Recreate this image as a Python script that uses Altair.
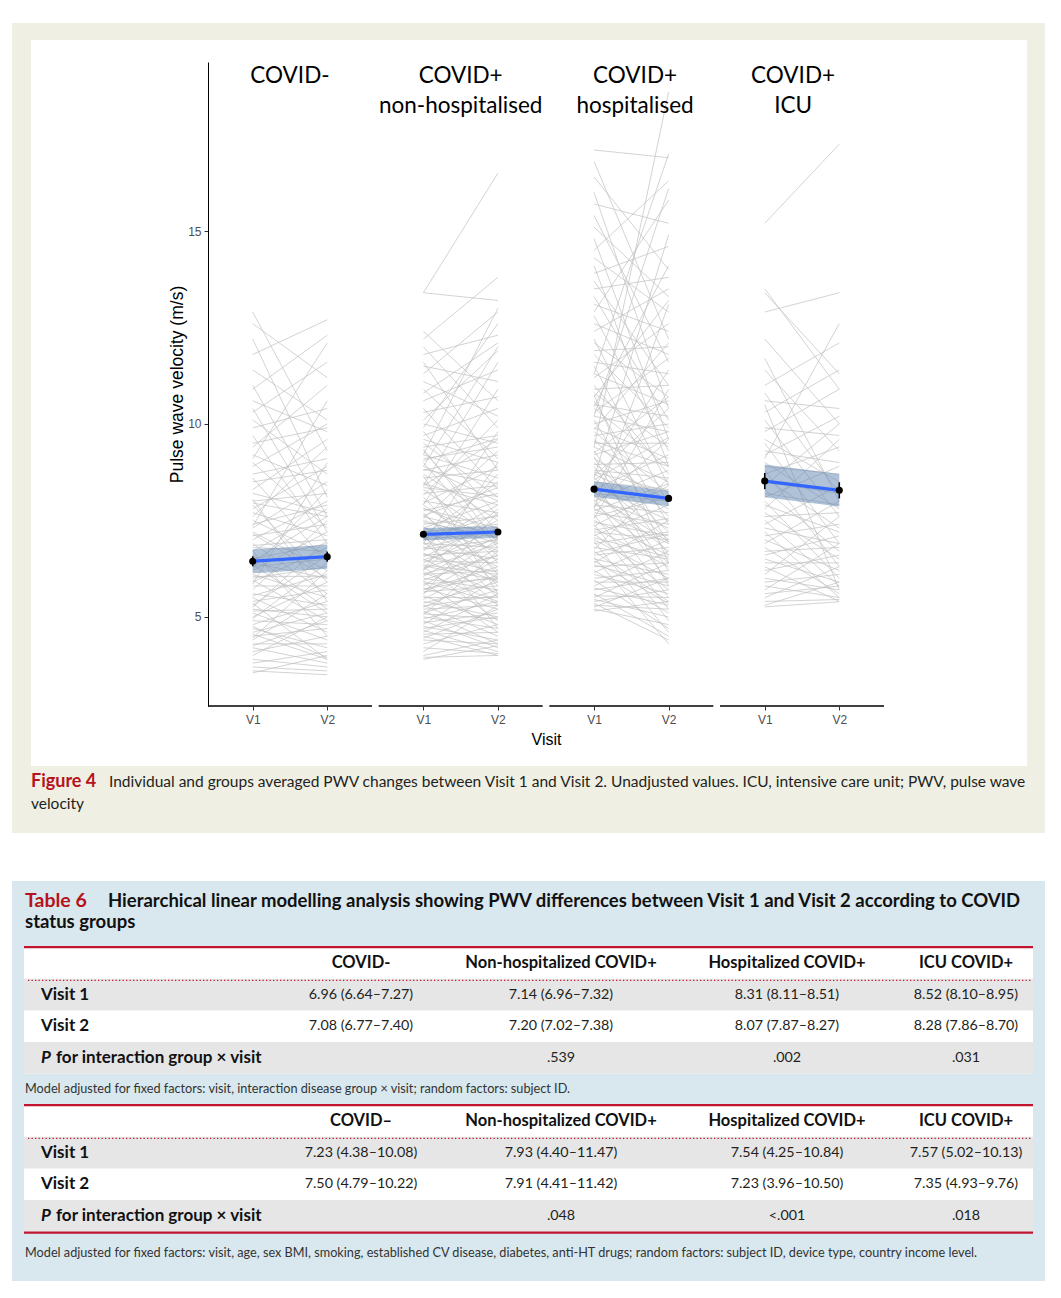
import altair as alt
import pandas as pd

# ---------------- Figure 4 data ----------------
group_titles = ["COVID-", "COVID+\nnon-hospitalised", "COVID+\nhospitalised", "COVID+\nICU"]
visits = ["V1", "V2"]

# individual subjects: (Visit 1, Visit 2) pulse wave velocity, m/s
covid_neg = [
    (12.9, 9.3), (12.6, 11.2), (12.2, 8.1), (11.8, 12.7), (11.4, 10.1), (11.0, 7.6), (10.9, 12.3),
    (10.6, 9.8), (10.3, 11.6), (10.1, 8.7), (9.9, 10.4), (9.7, 6.9), (9.5, 9.9), (9.4, 11.0),
    (9.2, 8.4), (9.0, 7.3), (8.9, 10.0), (8.7, 9.1), (8.6, 6.4), (8.5, 8.8), (8.3, 9.6), (8.2, 7.7),
    (8.0, 8.2), (7.9, 5.9), (7.8, 8.9), (7.7, 7.1), (7.6, 9.4), (7.5, 6.6), (7.4, 7.9), (7.3, 8.5),
    (7.2, 6.2), (7.1, 7.4), (7.0, 8.0), (6.9, 5.6), (6.85, 7.0), (6.8, 6.7), (6.7, 7.8), (6.6, 5.2),
    (6.5, 6.9), (6.45, 7.6), (6.4, 6.0), (6.3, 6.5), (6.2, 7.2), (6.1, 5.5), (6.0, 6.3), (5.95, 4.9),
    (5.9, 6.8), (5.8, 5.8), (5.7, 7.5), (5.6, 5.3), (5.55, 6.1), (5.5, 4.6), (5.4, 5.7), (5.3, 6.6),
    (5.2, 5.0), (5.1, 4.4), (5.0, 5.9), (4.95, 6.4), (4.9, 4.8), (4.8, 5.4), (4.7, 4.2), (4.6, 5.1),
    (4.55, 3.9), (4.5, 4.7), (4.4, 5.6), (4.3, 4.3), (4.2, 3.8), (4.1, 4.5), (4.0, 5.0), (3.9, 3.7),
    (3.8, 4.1), (3.7, 3.6), (3.6, 3.5), (3.55, 4.0), (6.25, 8.3), (7.15, 6.0), (5.25, 7.0), (8.05, 5.4),
    (6.7, 4.5), (5.85, 9.0), (9.1, 12.1), (7.35, 10.6), (4.45, 6.2), (10.4, 7.2), (5.35, 3.9),
    (6.05, 6.05), (7.95, 7.6), (4.25, 4.9), (5.15, 5.2), (4.75, 3.95), (6.35, 5.1),
]
covid_nonhosp = [
    (13.4, 16.5), (13.4, 13.2), (12.4, 10.6), (12.2, 13.8), (12.0, 9.9), (11.8, 12.3), (11.6, 8.8),
    (11.5, 11.1), (11.3, 12.9), (11.1, 10.2), (10.9, 9.1), (10.8, 12.1), (10.6, 11.4), (10.4, 8.3),
    (10.3, 10.7), (10.1, 11.9), (10.0, 9.5), (9.9, 12.6), (9.8, 7.6), (9.7, 10.4), (8.9, 12.0),
    (8.4, 11.6), (9.2, 13.0), (7.9, 10.9),
    (9.6, 9.0), (9.5, 8.1), (9.4, 9.7), (9.3, 7.2), (9.2, 8.6), (9.1, 9.4), (9.0, 6.8), (8.9, 8.0),
    (8.8, 9.2), (8.7, 7.5), (8.6, 8.8), (8.5, 6.4), (8.45, 7.9), (8.4, 9.6), (8.3, 7.0), (8.2, 8.4),
    (8.1, 6.1), (8.0, 7.7), (7.95, 8.9), (7.9, 6.6), (7.8, 7.3), (7.75, 8.2), (7.7, 5.8), (7.6, 7.1),
    (7.55, 9.3), (7.5, 6.9), (7.4, 7.6), (7.35, 5.5), (7.3, 8.0), (7.25, 6.3), (7.2, 7.4), (7.1, 8.5),
    (7.05, 6.0), (7.0, 7.2), (6.95, 5.3), (6.9, 6.8), (6.85, 7.9), (6.8, 6.5), (6.75, 7.0), (6.7, 8.7),
    (6.65, 5.9), (6.6, 6.7), (6.55, 7.5), (6.5, 5.6), (6.45, 6.4), (6.4, 7.3), (6.35, 6.1), (6.3, 4.9),
    (6.25, 6.9), (6.2, 7.8), (6.15, 5.4), (6.1, 6.2), (6.05, 7.1), (6.0, 5.7), (5.95, 6.6), (5.9, 4.6),
    (5.85, 6.0), (5.8, 7.0), (5.75, 5.2), (5.7, 6.3), (5.65, 5.8), (5.6, 6.8), (5.55, 4.8), (5.5, 5.5),
    (5.45, 6.5), (5.4, 5.0), (5.35, 5.9), (5.3, 4.5), (5.25, 6.1), (5.2, 5.3), (5.15, 4.3), (5.1, 5.7),
    (5.05, 6.7), (5.0, 4.7), (4.95, 5.4), (4.9, 4.2), (4.85, 5.1), (4.8, 6.0), (4.75, 4.4), (4.7, 5.0),
    (4.65, 4.1), (4.6, 5.6), (4.55, 4.6), (4.5, 4.0), (4.45, 5.2), (4.4, 4.3), (4.3, 4.8), (4.2, 4.05),
    (4.1, 5.3), (4.0, 4.4), (3.95, 4.0), (3.9, 4.25), (7.65, 6.2), (6.9, 9.8), (8.15, 10.1), (5.6, 7.7),
    (6.2, 9.0), (7.15, 4.7), (8.65, 5.6), (9.35, 6.9), (7.45, 7.05), (6.62, 6.15), (7.02, 7.65),
    (5.92, 5.35), (6.78, 7.28), (7.32, 6.72), (6.12, 6.58), (7.82, 7.02), (5.72, 6.05), (6.48, 7.02),
    (8.35, 8.12), (5.28, 5.55), (7.62, 8.35), (6.32, 5.95), (8.82, 8.45), (5.08, 4.95), (9.05, 9.62),
]
covid_hosp = [
    (17.1, 16.9), (16.8, 12.2), (16.4, 14.0), (16.0, 10.4), (15.7, 15.2), (15.4, 11.6), (15.1, 13.3),
    (14.8, 9.6), (14.5, 16.3), (14.3, 12.9), (14.1, 8.9), (13.9, 14.6), (13.7, 11.0), (13.5, 13.8),
    (13.3, 10.1), (13.1, 12.4), (12.9, 15.8), (12.8, 9.3), (12.6, 11.8), (12.4, 13.5), (12.2, 8.4),
    (12.1, 10.7), (9.4, 18.6), (10.2, 16.1), (8.6, 14.9), (11.3, 17.0), (7.8, 13.1),
    (11.9, 12.0), (11.8, 9.9), (11.6, 11.3), (11.5, 7.9), (11.3, 10.5), (11.2, 12.6), (11.0, 8.7),
    (10.9, 11.0), (10.8, 9.4), (10.7, 13.2), (10.6, 7.4), (10.5, 10.2), (10.4, 8.9), (10.3, 11.7),
    (10.2, 9.8), (10.1, 6.9), (10.0, 10.6),
    (9.9, 9.1), (9.8, 8.2), (9.7, 10.0), (9.6, 7.6), (9.5, 9.5), (9.4, 8.5), (9.3, 6.6), (9.2, 9.8),
    (9.1, 8.0), (9.0, 7.2), (8.95, 9.0), (8.9, 6.2), (8.8, 8.6), (8.7, 7.8), (8.65, 10.4), (8.6, 7.0),
    (8.5, 8.3), (8.45, 5.9), (8.4, 7.5), (8.3, 9.2), (8.25, 6.7), (8.2, 8.0), (8.1, 7.3), (8.05, 5.5),
    (8.0, 8.8), (7.95, 6.4), (7.9, 7.7), (7.85, 9.6), (7.8, 6.9), (7.7, 7.4), (7.65, 5.2), (7.6, 8.1),
    (7.5, 6.6), (7.45, 7.1), (7.4, 4.9), (7.35, 8.4), (7.3, 6.3), (7.2, 7.0), (7.15, 5.7), (7.1, 7.9),
    (7.0, 6.0), (6.95, 4.6), (6.9, 7.2), (6.8, 6.5), (6.75, 8.6), (6.7, 5.4), (6.6, 6.8), (6.55, 4.3),
    (6.5, 6.1), (6.4, 7.5), (6.35, 5.8), (6.3, 6.4), (6.2, 5.1), (6.15, 7.0), (6.1, 5.6), (6.0, 6.2),
    (5.95, 4.7), (5.9, 5.9), (5.8, 6.7), (5.75, 5.3), (5.7, 6.0), (5.6, 4.5), (5.55, 5.5), (5.5, 6.4),
    (5.45, 5.0), (5.4, 5.7), (5.35, 4.4), (5.3, 5.2), (5.25, 6.0), (5.2, 4.8), (5.15, 5.4),
    (9.85, 12.1), (8.35, 11.4), (10.45, 14.1), (7.55, 10.9), (9.15, 5.8), (10.75, 6.4), (8.75, 8.25),
    (7.25, 7.55), (9.55, 8.9), (6.65, 7.15), (8.15, 6.95), (7.75, 8.45), (9.25, 10.7), (6.45, 5.35),
    (8.55, 9.65), (7.05, 6.55),
]
covid_icu = [
    (15.2, 17.25), (13.5, 10.9), (13.4, 11.3), (12.9, 13.4), (12.2, 10.0), (11.4, 9.3), (11.0, 12.1),
    (10.8, 8.2), (10.6, 10.4), (10.3, 11.4), (10.1, 7.6), (9.9, 9.7), (9.8, 10.9), (9.6, 8.5),
    (9.5, 6.9), (9.3, 9.0), (9.2, 10.2), (9.0, 7.8), (8.9, 8.7), (8.8, 6.3), (8.7, 9.4), (8.6, 7.3),
    (8.5, 8.2), (8.4, 10.0), (8.3, 6.7), (8.2, 7.9), (8.1, 8.9), (8.0, 6.0), (7.9, 7.2), (7.8, 9.6),
    (7.7, 6.5), (7.6, 7.7), (7.5, 5.8), (7.4, 8.4), (7.3, 6.9), (7.2, 5.5), (7.1, 7.4), (7.0, 6.2),
    (6.9, 8.0), (6.8, 5.6), (6.7, 6.8), (6.6, 7.1), (6.5, 5.9), (6.4, 6.4), (6.3, 5.4), (6.2, 6.6),
    (6.1, 7.6), (6.0, 5.7), (5.9, 6.1), (5.8, 5.5), (5.7, 6.9), (5.6, 5.8), (5.5, 6.3), (5.4, 5.45),
    (5.3, 5.9), (5.26, 5.39), (11.7, 8.0), (10.5, 5.7), (9.1, 12.6),
]

mean_v1 = [6.44, 7.14, 8.31, 8.52]
mean_v2 = [6.56, 7.20, 8.07, 8.28]
band_lo_v1 = [6.13, 6.98, 8.11, 8.10]
band_hi_v1 = [6.75, 7.30, 8.51, 8.95]
band_lo_v2 = [6.25, 7.05, 7.87, 7.86]
band_hi_v2 = [6.87, 7.35, 8.27, 8.70]
err_v1 = [0.13, 0.07, 0.07, 0.21]
err_v2 = [0.13, 0.07, 0.07, 0.21]
y_ticks = [5, 10, 15]

caption_label = "Figure 4"
caption_line1 = ("Individual and groups averaged PWV changes between Visit 1 and Visit 2. "
                 "Unadjusted values. ICU, intensive care unit; PWV, pulse wave")
caption_line2 = "velocity"

# ---------------- Table 6 data ----------------
table_label = "Table 6"
table_title1 = ("Hierarchical linear modelling analysis showing PWV differences between "
                "Visit 1 and Visit 2 according to COVID")
table_title2 = "status groups"
header_a = ["COVID-", "Non-hospitalized COVID+", "Hospitalized COVID+", "ICU COVID+"]
header_b = ["COVID\u2013", "Non-hospitalized COVID+", "Hospitalized COVID+", "ICU COVID+"]
row_labels = ["Visit 1", "Visit 2"]
p_italic = "P"
p_label = "for interaction group \u00d7 visit"
a_visit1 = ["6.96 (6.64\u20137.27)", "7.14 (6.96\u20137.32)", "8.31 (8.11\u20138.51)", "8.52 (8.10\u20138.95)"]
a_visit2 = ["7.08 (6.77\u20137.40)", "7.20 (7.02\u20137.38)", "8.07 (7.87\u20138.27)", "8.28 (7.86\u20138.70)"]
a_p = ["", ".539", ".002", ".031"]
b_visit1 = ["7.23 (4.38\u201310.08)", "7.93 (4.40\u201311.47)", "7.54 (4.25\u201310.84)", "7.57 (5.02\u201310.13)"]
b_visit2 = ["7.50 (4.79\u201310.22)", "7.91 (4.41\u201311.42)", "7.23 (3.96\u201310.50)", "7.35 (4.93\u20139.76)"]
b_p = ["", ".048", "<.001", ".018"]
note_a = "Model adjusted for fixed factors: visit, interaction disease group \u00d7 visit; random factors: subject ID."
note_b = ("Model adjusted for fixed factors: visit, age, sex BMI, smoking, established CV disease, diabetes, "
          "anti-HT drugs; random factors: subject ID, device type, country income level.")

# ---------------- styles / layout ----------------
STEP = 2.29          # panel period in x units
W, H = 676, 644
OFFX = -196          # block left edge relative to the plot origin
NARROW = "Liberation Sans Narrow, Arial Narrow, Liberation Sans, sans-serif"
SANS = "Liberation Sans, Arial, sans-serif"
HUM = "Lato, Open Sans, sans-serif"
RED = "#b5121b"
BEIGE = "#efefe4"
BLUE_BG = "#d9e8ee"
GRAY_ROW = "#e6e6e6"

xs = alt.Scale(domain=[0.4, 3 * STEP + 2.6], nice=False, zero=False)
ys = alt.Scale(domain=[2.69, 19.38], nice=False, zero=False)
tick_vals = [round(g * STEP + v, 2) for g in range(4) for v in (1, 2)]
xaxis = alt.Axis(
    values=tick_vals,
    labelExpr=f"round(datum.value % {STEP}) == 1 ? '{visits[0]}' : '{visits[1]}'",
    title="Visit", domain=False, grid=False, tickSize=4, tickColor="#333333", zindex=2,
    labelFont=NARROW, labelFontSize=12, labelColor="#4d4d4d", labelPadding=4, labelFlush=False,
    titleFont=NARROW, titleFontSize=16, titleFontWeight="normal", titleColor="#000000", titlePadding=6,
)
yaxis = alt.Axis(
    values=y_ticks, title="Pulse wave velocity (m/s)", grid=False, zindex=2,
    domainColor="#000000", domainWidth=1, tickSize=4, tickColor="#333333",
    labelFont=NARROW, labelFontSize=12, labelColor="#4d4d4d", labelPadding=3,
    titleFont=SANS, titleFontSize=17.5, titleFontWeight="normal", titleColor="#000000", titlePadding=1,
)


def X(f):
    return alt.X(f, type="quantitative", scale=xs, axis=xaxis)


def Y(f):
    return alt.Y(f, type="quantitative", scale=ys, axis=yaxis)


# ---------------- figure tables ----------------
subjects = [covid_neg, covid_nonhosp, covid_hosp, covid_icu]
line_rows = []
for g, pairs in enumerate(subjects):
    for i, (a, b) in enumerate(pairs):
        sid = f"{g}_{i}"
        line_rows.append(dict(sid=sid, x=round(g * STEP + 1, 2), pwv=a))
        line_rows.append(dict(sid=sid, x=round(g * STEP + 2, 2), pwv=b))
df_lines = pd.DataFrame(line_rows)

mean_rows = []
for g in range(4):
    mean_rows.append(dict(g=g, x=round(g * STEP + 1, 2), pwv=mean_v1[g], lo=band_lo_v1[g], hi=band_hi_v1[g],
                          elo=mean_v1[g] - err_v1[g], ehi=mean_v1[g] + err_v1[g]))
    mean_rows.append(dict(g=g, x=round(g * STEP + 2, 2), pwv=mean_v2[g], lo=band_lo_v2[g], hi=band_hi_v2[g],
                          elo=mean_v2[g] - err_v2[g], ehi=mean_v2[g] + err_v2[g]))
df_mean = pd.DataFrame(mean_rows)

title_nudge = [0.0, 0.0, 0.05, -0.12]
df_panels = pd.DataFrame(dict(
    x0=[g * STEP + 0.4 for g in range(4)],
    x1=[g * STEP + 2.6 for g in range(4)],
    tx=[g * STEP + 1.5 + title_nudge[g] for g in range(4)],
    title=group_titles,
))
one = alt.Data(values=[{"k": 1}])

bg_beige = alt.Chart(one).mark_rect(color=BEIGE).encode(
    x=alt.value(OFFX), x2=alt.value(837), y=alt.value(-39), y2=alt.value(771))
bg_white = alt.Chart(one).mark_rect(color="#ffffff").encode(
    x=alt.value(OFFX + 19), x2=alt.value(819), y=alt.value(-22), y2=alt.value(704))

lines = alt.Chart(df_lines).mark_line(stroke="#c0c0c0", strokeWidth=0.9, opacity=0.78).encode(
    x=X("x"), y=Y("pwv"), detail="sid:N")
ribbon = alt.Chart(df_mean).mark_area(color="#5f86b0", opacity=0.5).encode(
    x=X("x"), y=Y("lo"), y2="hi:Q", detail="g:N")
blue = alt.Chart(df_mean).mark_line(color="#3366ff", strokeWidth=3.2).encode(
    x=X("x"), y=Y("pwv"), detail="g:N")
errs = alt.Chart(df_mean).mark_rule(color="#000000", strokeWidth=1.6).encode(
    x=X("x"), y=Y("elo"), y2="ehi:Q")
pts = alt.Chart(df_mean).mark_circle(color="#000000", size=50, opacity=1).encode(
    x=X("x"), y=Y("pwv"))
panel_axes = alt.Chart(df_panels).mark_rule(color="#000000", strokeWidth=1.5).encode(
    x=X("x0"), x2="x1:Q", y=alt.value(H))
panel_titles = alt.Chart(df_panels).mark_text(
    font=HUM, fontSize=22.5, lineBreak="\n", lineHeight=30, align="center", baseline="alphabetic",
    color="#000000").encode(x=X("tx"), y=alt.value(21), text="title:N")

cap_a = alt.Chart(one).mark_text(
    text=caption_label, font=HUM, fontSize=18, fontWeight="bold", color=RED, align="left",
    baseline="middle").encode(x=alt.value(OFFX + 19), y=alt.value(720))
cap_b = alt.Chart(one).mark_text(
    text=caption_line1, font=HUM, fontSize=15.5, color="#231f20", align="left",
    baseline="middle").encode(x=alt.value(-99), y=alt.value(720))
cap_c = alt.Chart(one).mark_text(
    text=caption_line2, font=HUM, fontSize=15.5, color="#231f20", align="left",
    baseline="middle").encode(x=alt.value(OFFX + 19), y=alt.value(742))

fig = alt.layer(
    bg_beige, bg_white, lines, ribbon, blue, errs, pts, panel_axes, panel_titles, cap_a, cap_b, cap_c
).properties(width=W, height=H)

# ---------------- table ----------------
TW, TH = 837, 400
ts = alt.Scale(domain=[-2.595, 10.063], reverse=True, nice=False, zero=False)


def TY(f):
    return alt.Y(f, type="quantitative", scale=ts, axis=None)


body = [
    dict(r=0, kind="head", label="", c1=header_a[0], c2=header_a[1], c3=header_a[2], c4=header_a[3]),
    dict(r=1, kind="body", label=row_labels[0], c1=a_visit1[0], c2=a_visit1[1], c3=a_visit1[2], c4=a_visit1[3]),
    dict(r=2, kind="body", label=row_labels[1], c1=a_visit2[0], c2=a_visit2[1], c3=a_visit2[2], c4=a_visit2[3]),
    dict(r=3, kind="p", label="", c1=a_p[0], c2=a_p[1], c3=a_p[2], c4=a_p[3]),
    dict(r=5, kind="head", label="", c1=header_b[0], c2=header_b[1], c3=header_b[2], c4=header_b[3]),
    dict(r=6, kind="body", label=row_labels[0], c1=b_visit1[0], c2=b_visit1[1], c3=b_visit1[2], c4=b_visit1[3]),
    dict(r=7, kind="body", label=row_labels[1], c1=b_visit2[0], c2=b_visit2[1], c3=b_visit2[2], c4=b_visit2[3]),
    dict(r=8, kind="p", label="", c1=b_p[0], c2=b_p[1], c3=b_p[2], c4=b_p[3]),
]
df_tab = pd.DataFrame(body)
df_white = pd.DataFrame(dict(r0=[-0.5, 4.5], r1=[3.5, 8.5]))
df_gray = pd.DataFrame(dict(r0=[0.5, 2.5, 5.5, 7.5], r1=[1.5, 3.5, 6.5, 8.5]))
df_red = pd.DataFrame(dict(r=[-0.5, 4.5, 8.53]))
df_dot = pd.DataFrame(dict(r=[0.55, 5.55]))
df_p = pd.DataFrame(dict(r=[3, 8], a=[p_italic, p_italic], b=[p_label, p_label]))
df_notes = pd.DataFrame(dict(r=[4, 9.18], t=[note_a, note_b]))
df_title = pd.DataFrame(dict(r=[-1.96, -1.96, -1.31], t=[table_label, table_title1, table_title2],
                             pos=[0, 1, 2]))

tbg = alt.Chart(one).mark_rect(color=BLUE_BG).encode(
    x=alt.value(OFFX), x2=alt.value(TW), y=alt.value(0), y2=alt.value(TH))
twhite = alt.Chart(df_white).mark_rect(color="#ffffff").encode(
    x=alt.value(OFFX + 12), x2=alt.value(OFFX + 1021), y=TY("r0"), y2="r1:Q")
tgray = alt.Chart(df_gray).mark_rect(color=GRAY_ROW).encode(
    x=alt.value(OFFX + 12), x2=alt.value(OFFX + 1021), y=TY("r0"), y2="r1:Q")
tred = alt.Chart(df_red).mark_rule(color="#c0142f", strokeWidth=2.2).encode(
    x=alt.value(OFFX + 12), x2=alt.value(OFFX + 1021), y=TY("r"))
tdot = alt.Chart(df_dot).mark_rule(color="#c0142f", strokeWidth=1.3, strokeDash=[1.3, 2.2]).encode(
    x=alt.value(OFFX + 16), x2=alt.value(OFFX + 1019), y=TY("r"))


def ttext(data, field, x, align="left", size=13.5, weight="normal", style="normal", color="#231f20"):
    return alt.Chart(data).mark_text(
        font=HUM, fontSize=size, fontWeight=weight, fontStyle=style, color=color,
        align=align, baseline="middle").encode(x=alt.value(OFFX + x), y=TY("r"), text=f"{field}:N")


title_layers = [
    ttext(df_title, "t", 13, size=19.5, weight="bold", color=RED).transform_filter("datum.pos == 0"),
    ttext(df_title, "t", 96, size=18.5, weight="bold", color="#111111").transform_filter("datum.pos == 1"),
    ttext(df_title, "t", 13, size=18.5, weight="bold", color="#111111").transform_filter("datum.pos == 2"),
]
col_x = [349, 549, 775, 954]
col_layers = []
for j, cx in enumerate(col_x):
    f = f"c{j + 1}"
    col_layers.append(ttext(df_tab, f, cx, align="center", size=16.5, weight="bold", color="#111111")
                      .transform_filter("datum.kind == 'head'"))
    col_layers.append(ttext(df_tab, f, cx, align="center", size=14.3)
                      .transform_filter("datum.kind != 'head'"))
label_layer = ttext(df_tab, "label", 29, size=17, weight="bold", color="#111111").transform_filter(
    "datum.kind == 'body'")
p_a = ttext(df_p, "a", 29, size=17, weight="bold", style="italic", color="#111111")
p_b = ttext(df_p, "b", 44, size=17, weight="bold", color="#111111")
notes = ttext(df_notes, "t", 13, size=12.7, color="#333333")

tbl = alt.layer(
    tbg, twhite, tgray, tred, tdot, *title_layers, *col_layers, label_layer, p_a, p_b, notes
).properties(width=TW, height=TH)

chart = alt.vconcat(fig, tbl, spacing=48).properties(
    padding={"left": 4, "top": 15, "right": 0, "bottom": 6}, background="#ffffff"
).configure_view(stroke=None)

chart.save("out.html", embed_options={"renderer": "svg", "actions": False})
